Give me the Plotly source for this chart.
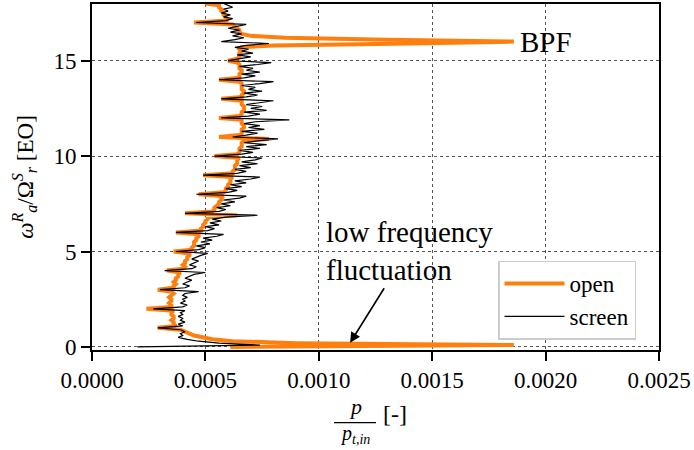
import numpy as np
import plotly.graph_objects as go

# Frequency axis (engine orders), 0.0 ... 18.0 in steps of 0.1
freq_eo = np.round(np.arange(0, 181) * 0.1, 1)

# Amplitudes p / p_t,in, given in units of 1e-5
open_e5 = [
    61, 186, 90, 62, 53, 48, 45, 43, 41, 39,
    29, 37, 36, 36, 35, 36, 36, 35, 35, 36,
    24, 35, 35, 34, 35, 35, 34, 35, 36, 35,
    29, 36, 36, 37, 36, 37, 37, 38, 38, 39,
    33, 40, 41, 40, 41, 41, 42, 42, 43, 43,
    36, 44, 44, 45, 45, 45, 46, 46, 47, 47,
    37, 48, 48, 49, 49, 50, 50, 51, 51, 64,
    41, 53, 54, 54, 55, 56, 56, 57, 57, 58,
    47, 58, 59, 59, 60, 60, 61, 61, 61, 62,
    49, 62, 62, 63, 63, 63, 64, 64, 64, 65,
    54, 64, 65, 65, 65, 66, 66, 66, 67, 78,
    56, 65, 66, 66, 66, 67, 67, 66, 66, 66,
    56, 65, 66, 66, 67, 67, 67, 66, 66, 66,
    57, 66, 66, 67, 67, 66, 66, 66, 66, 65,
    56, 65, 65, 65, 66, 66, 65, 65, 65, 64,
    60, 64, 65, 65, 65, 66, 65, 66, 80, 140,
    186, 130, 85, 70, 66, 65, 65, 64, 63, 62,
    45, 60, 59, 59, 58, 58, 57, 57, 56, 56,
    50,
]
screen_e5 = [
    20, 74, 56, 47, 42, 38, 40, 39, 41, 39,
    29, 40, 38, 41, 39, 40, 38, 40, 39, 41,
    27, 40, 42, 39, 41, 40, 42, 40, 41, 47,
    30, 41, 43, 40, 42, 44, 41, 43, 45, 50,
    32, 44, 46, 43, 45, 47, 44, 46, 48, 51,
    37, 47, 50, 46, 52, 48, 53, 49, 55, 58,
    37, 51, 54, 50, 56, 52, 57, 53, 59, 73,
    41, 56, 59, 55, 61, 57, 63, 58, 65, 68,
    46, 60, 64, 59, 66, 61, 68, 63, 70, 74,
    49, 64, 68, 63, 70, 65, 73, 66, 72, 75,
    54, 66, 71, 65, 74, 68, 77, 67, 73, 82,
    62, 68, 73, 66, 76, 69, 74, 67, 72, 87,
    57, 69, 74, 67, 77, 70, 75, 68, 73, 80,
    57, 68, 73, 67, 75, 69, 72, 66, 74, 80,
    56, 67, 72, 66, 74, 68, 71, 65, 73, 79,
    60, 65, 70, 64, 71, 66, 69, 63, 68, 78,
    57, 63, 67, 62, 66, 61, 65, 60, 64, 68,
    46, 59, 62, 58, 61, 57, 60, 58, 62, 60,
    58,
]
open_amp = np.array(open_e5) * 1e-5
screen_amp = np.array(screen_e5) * 1e-5

x_ticks = [0.0, 0.0005, 0.0010, 0.0015, 0.0020, 0.0025]
y_ticks = [0, 5, 10, 15]

SERIF = "Liberation Serif"

fig = go.Figure()
fig.add_trace(go.Scatter(x=open_amp, y=freq_eo, mode="lines", name="open",
                         line=dict(color="#ff7f0e", width=4)))
fig.add_trace(go.Scatter(x=screen_amp, y=freq_eo, mode="lines", name="screen",
                         line=dict(color="black", width=1.2)))

axis_common = dict(showline=True, linecolor="black", linewidth=1.6, mirror=True,
                   ticks="outside", ticklen=9, tickwidth=1.6, tickcolor="black",
                   showgrid=True, gridcolor="#555", griddash="dot", gridwidth=0.7,
                   zeroline=False, tickfont=dict(family=SERIF, size=23, color="black"))

fig.update_xaxes(range=[0, 0.0025], tickvals=x_ticks, tickformat=".4f", **axis_common)
fig.update_yaxes(range=[-0.16, 17.97], tickvals=y_ticks, **axis_common,
                 title=dict(text="<i>ω</i><sup><i>R</i></sup><sub><i>a</i></sub>/Ω<sup><i>S</i></sup><sub><i>r</i></sub> [EO]",
                            font=dict(family=SERIF, size=23, color="black"), standoff=14))

annotations = [
    dict(x=0.00187, y=16.0, xref="x", yref="y", text="BPF", showarrow=False,
         xanchor="left", yanchor="middle", xshift=2, font=dict(family=SERIF, size=29, color="black")),
    dict(x=(324 - 92) / 567, y=(350 - 250) / 348, xref="paper", yref="paper",
         text="low frequency<br>fluctuation", showarrow=False, align="left",
         xanchor="left", yanchor="middle", font=dict(family=SERIF, size=29, color="black")),
    dict(x=0.001138, y=0.22, xref="x", yref="y", ax=35, ay=-56, axref="pixel", ayref="pixel",
         text="", showarrow=True, arrowhead=2, arrowsize=1.3, arrowwidth=1.6, arrowcolor="black"),
    # x-axis label as a stacked fraction p / p_t,in [-]
    dict(x=(355 - 92) / 567, y=(350 - 421) / 348, xref="paper", yref="paper",
         text="<i>p</i>", showarrow=False, yanchor="bottom",
         font=dict(family=SERIF, size=22, color="black")),
    dict(x=(355 - 92) / 567, y=(350 - 420) / 348, xref="paper", yref="paper",
         text="<i>p</i><sub><i>t,in</i></sub>", showarrow=False, yanchor="top",
         font=dict(family=SERIF, size=20, color="black")),
    dict(x=(381 - 92) / 567, y=(350 - 429) / 348, xref="paper", yref="paper",
         text="[-]", showarrow=False, xanchor="left",
         font=dict(family=SERIF, size=24, color="black")),
]

shapes = [
    dict(type="line", xref="paper", yref="paper",
         x0=(334 - 92) / 567, x1=(376 - 92) / 567,
         y0=(350 - 423) / 348, y1=(350 - 423) / 348,
         line=dict(color="black", width=1.3)),
]

fig.update_layout(
    width=694, height=450,
    margin=dict(l=92, r=35, t=2, b=100),
    paper_bgcolor="white", plot_bgcolor="white",
    font=dict(family=SERIF, color="black"),
    annotations=annotations, shapes=shapes,
    showlegend=True,
    legend=dict(x=(498 - 92) / 567, y=(350 - 260) / 348, xanchor="left", yanchor="top",
                bgcolor="white", bordercolor="#cccccc", borderwidth=1.5,
                font=dict(family=SERIF, size=23, color="black"),
                itemwidth=60, tracegroupgap=4),
)

fig.write_html("out.html")
